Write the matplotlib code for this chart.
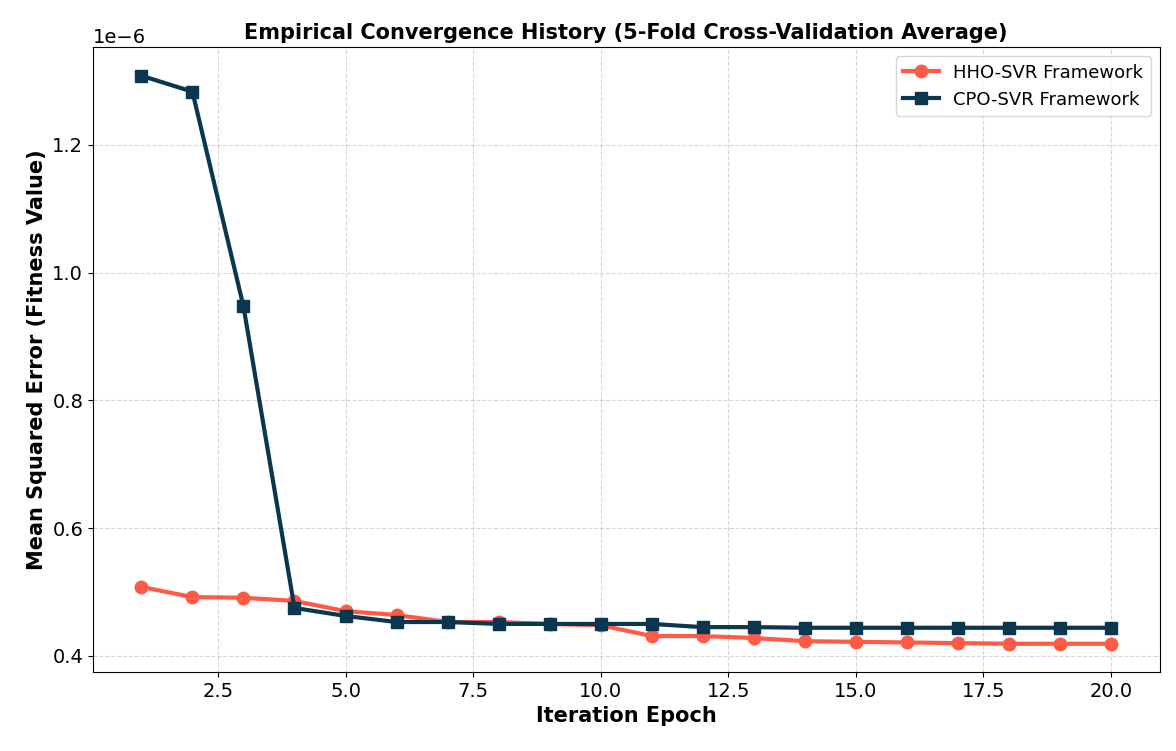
import matplotlib
matplotlib.use("Agg")
import matplotlib.pyplot as plt

epochs = list(range(1, 21))
hho = [0.508, 0.492, 0.491, 0.486, 0.470, 0.464, 0.453, 0.453, 0.450, 0.448,
       0.431, 0.431, 0.428, 0.423, 0.422, 0.421, 0.420, 0.419, 0.419, 0.419]
cpo = [1.308, 1.283, 0.947, 0.475, 0.4625, 0.453, 0.453, 0.450, 0.450, 0.450,
       0.450, 0.445, 0.445, 0.444, 0.444, 0.444, 0.444, 0.444, 0.444, 0.444]
hho = [v * 1e-6 for v in hho]
cpo = [v * 1e-6 for v in cpo]

fig, ax = plt.subplots(figsize=(11.76, 7.51), dpi=100)
ax.plot(epochs, hho, color="#FF5A45", marker="o", markersize=9, linewidth=3, label="HHO-SVR Framework")
ax.plot(epochs, cpo, color="#0B3650", marker="s", markersize=9, linewidth=3, label="CPO-SVR Framework")
ax.set_title("Empirical Convergence History (5-Fold Cross-Validation Average)", fontsize=15, fontweight="bold")
ax.set_xlabel("Iteration Epoch", fontsize=15, fontweight="bold")
ax.set_ylabel("Mean Squared Error (Fitness Value)", fontsize=15, fontweight="bold")
ax.tick_params(labelsize=14)
ax.yaxis.get_offset_text().set_fontsize(14)
ax.grid(True, linestyle="--", alpha=0.5)
ax.legend(fontsize=13, loc="upper right")
fig.subplots_adjust(left=0.079, right=0.986, top=0.937, bottom=0.105)
fig.savefig("out.png")
